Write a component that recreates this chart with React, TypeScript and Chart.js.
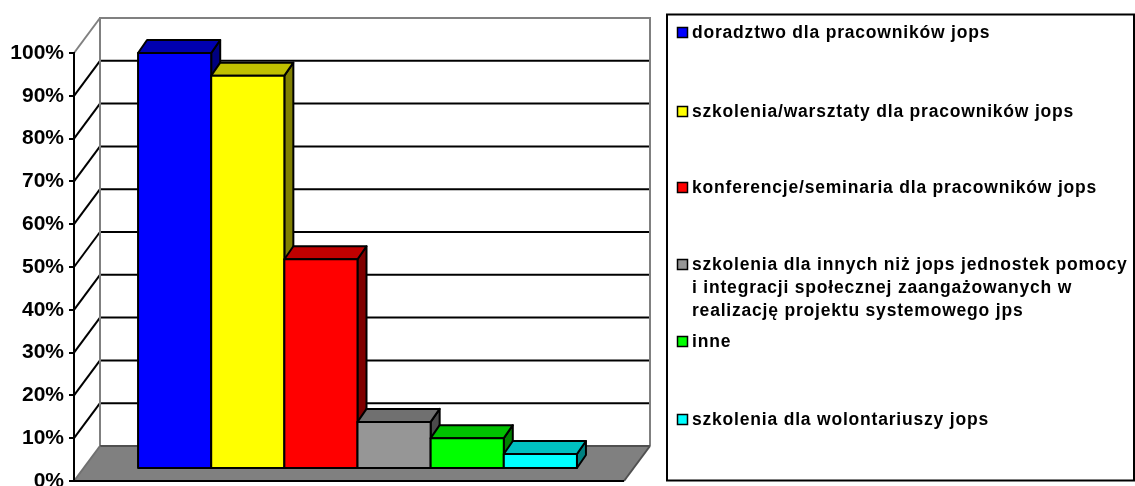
import React, { useEffect, useRef } from "react";
import { Chart, registerables } from "chart.js";

Chart.register(...registerables);

const categories = [""];
const seriesLabels = [
  "doradztwo dla pracowników jops",
  "szkolenia/warsztaty dla pracowników jops",
  "konferencje/seminaria dla pracowników jops",
  "szkolenia dla innych niż jops jednostek pomocy",
  "inne",
  "szkolenia dla wolontariuszy jops",
];
const seriesExtraLines: string[][] = [
  [],
  [],
  [],
  ["i integracji społecznej zaangażowanych w", "realizację projektu systemowego jps"],
  [],
  [],
];
const seriesValues = [97.2, 91.9, 49, 11, 7.2, 3.5];
const faceColors = ["#0000ff", "#ffff00", "#ff0000", "#969696", "#00ff00", "#00ffff"];
const topColors = ["#0000b0", "#c0c000", "#c00000", "#707070", "#00c000", "#00c0c0"];
const sideColors = ["#000080", "#808000", "#800000", "#4b4b4b", "#008000", "#008080"];
const legendCenters = [32, 111, 187, 264, 341, 419];

const FONT = '"Liberation Sans", Arial, sans-serif';
const WALL = { dx: 26, dy: -35 };
const BAR_SHIFT = { dx: 8.5, dy: -12 };
const BAR_DEPTH = { dx: 9, dy: -13 };

const poly = (ctx: CanvasRenderingContext2D, pts: number[][], fill?: string, stroke?: string, lw = 2) => {
  ctx.beginPath();
  pts.forEach((p, i) => (i ? ctx.lineTo(p[0], p[1]) : ctx.moveTo(p[0], p[1])));
  ctx.closePath();
  if (fill) {
    ctx.fillStyle = fill;
    ctx.fill();
  }
  if (stroke) {
    ctx.strokeStyle = stroke;
    ctx.lineWidth = lw;
    ctx.lineJoin = "round";
    ctx.stroke();
  }
};

const line = (ctx: CanvasRenderingContext2D, x1: number, y1: number, x2: number, y2: number, color: string, lw = 2) => {
  ctx.beginPath();
  ctx.moveTo(x1, y1);
  ctx.lineTo(x2, y2);
  ctx.strokeStyle = color;
  ctx.lineWidth = lw;
  ctx.stroke();
};

const wallsPlugin = {
  id: "walls",
  beforeDraw(chart: any) {
    const { ctx, chartArea: a, scales } = chart;
    const y = scales.y;
    const y0 = y.getPixelForValue(0);
    const y100 = y.getPixelForValue(100);
    ctx.save();
    poly(ctx, [
      [a.left, y0],
      [a.right, y0],
      [a.right + WALL.dx, y0 + WALL.dy],
      [a.left + WALL.dx, y0 + WALL.dy],
    ], "#808080");
    for (let v = 10; v <= 90; v += 10) {
      const p = y.getPixelForValue(v);
      line(ctx, a.left, p, a.left + WALL.dx, p + WALL.dy, "#000");
      line(ctx, a.left + WALL.dx, p + WALL.dy, a.right + WALL.dx, p + WALL.dy, "#000");
    }
    line(ctx, a.left, y100, a.left + WALL.dx, y100 + WALL.dy, "#808080");
    line(ctx, a.left + WALL.dx, y100 + WALL.dy, a.right + WALL.dx, y100 + WALL.dy, "#808080");
    line(ctx, a.left + WALL.dx, y100 + WALL.dy - 1, a.left + WALL.dx, y0 + WALL.dy, "#808080");
    line(ctx, a.right + WALL.dx, y100 + WALL.dy - 1, a.right + WALL.dx, y0 + WALL.dy, "#808080");
    line(ctx, a.left + WALL.dx, y0 + WALL.dy, a.right + WALL.dx, y0 + WALL.dy, "#505050");
    line(ctx, a.left, y0, a.left + WALL.dx, y0 + WALL.dy, "#707070");
    line(ctx, a.right, y0, a.right + WALL.dx, y0 + WALL.dy, "#505050");
    line(ctx, a.left, y0, a.right, y0, "#000");
    ctx.restore();
  },
  beforeDatasetsDraw(chart: any) {
    const { ctx } = chart;
    ctx.save();
    ctx.translate(BAR_SHIFT.dx, BAR_SHIFT.dy);
    seriesValues.forEach((_, i) => {
      const meta = chart.getDatasetMeta(i);
      const el = meta.data[0];
      const { x, y, base, width } = el.getProps(["x", "y", "base", "width"], true);
      const l = x - width / 2;
      const r = x + width / 2;
      const { dx, dy } = BAR_DEPTH;
      poly(ctx, [[r, y], [r + dx, y + dy], [r + dx, base + dy], [r, base]], sideColors[i], "#000");
      poly(ctx, [[l, y], [l + dx, y + dy], [r + dx, y + dy], [r, y]], topColors[i], "#000");
      meta.controller.draw();
      poly(ctx, [[l, y], [r, y], [r, base], [l, base]], undefined, "#000");
    });
    ctx.restore();
    return false;
  },
  afterDraw(chart: any) {
    const { ctx } = chart;
    ctx.save();
    ctx.strokeStyle = "#000";
    ctx.lineWidth = 2;
    ctx.strokeRect(667, 14.5, 467, 466);
    ctx.font = `bold 17.5px ${FONT}`;
    (ctx as any).letterSpacing = "0.8px";
    ctx.textBaseline = "middle";
    ctx.textAlign = "left";
    seriesLabels.forEach((label, i) => {
      const c = legendCenters[i];
      ctx.fillStyle = faceColors[i];
      ctx.fillRect(677.5, c - 4.5, 10, 10);
      ctx.lineWidth = 1.5;
      ctx.strokeRect(677.5, c - 4.5, 10, 10);
      ctx.fillStyle = "#000";
      ctx.fillText(label, 692, c + 1);
      seriesExtraLines[i].forEach((t, j) => ctx.fillText(t, 692, c + 1 + 23 * (j + 1)));
    });
    ctx.restore();
  },
};

export default function App() {
  const ref = useRef<HTMLCanvasElement>(null);
  useEffect(() => {
    const chart = new Chart(ref.current!, {
      type: "bar",
      data: {
        labels: categories,
        datasets: seriesLabels.map((label, i) => ({
          label,
          data: [seriesValues[i]],
          backgroundColor: faceColors[i],
          borderWidth: 0,
          barPercentage: 1,
          categoryPercentage: 0.798,
        })),
      },
      options: {
        animation: false,
        responsive: false,
        layout: { padding: { left: 0, top: 53, right: 511, bottom: 5 } },
        plugins: { legend: { display: false }, tooltip: { enabled: false }, title: { display: false } },
        scales: {
          x: { display: false },
          y: {
            min: 0,
            max: 100,
            afterFit(scale: any) {
              scale.width = 74;
              scale.paddingTop = 0;
              scale.paddingBottom = 0;
            },
            border: { display: true, color: "#000", width: 2 },
            grid: { drawOnChartArea: false, drawTicks: true, tickLength: 5, color: "#000", lineWidth: 2 },
            ticks: {
              stepSize: 10,
              padding: 5,
              color: "#000",
              font: { family: FONT, size: 21, weight: "bold" },
              callback: (v: any) => `${v}%`,
            },
          },
        },
      },
      plugins: [wallsPlugin],
    } as any);
    return () => chart.destroy();
  }, []);
  return (
    <div style={{ position: "fixed", left: 0, top: 0, width: 1135, height: 486, background: "#fff" }}>
      <canvas ref={ref} width={1135} height={486} style={{ display: "block" }} />
    </div>
  );
}
